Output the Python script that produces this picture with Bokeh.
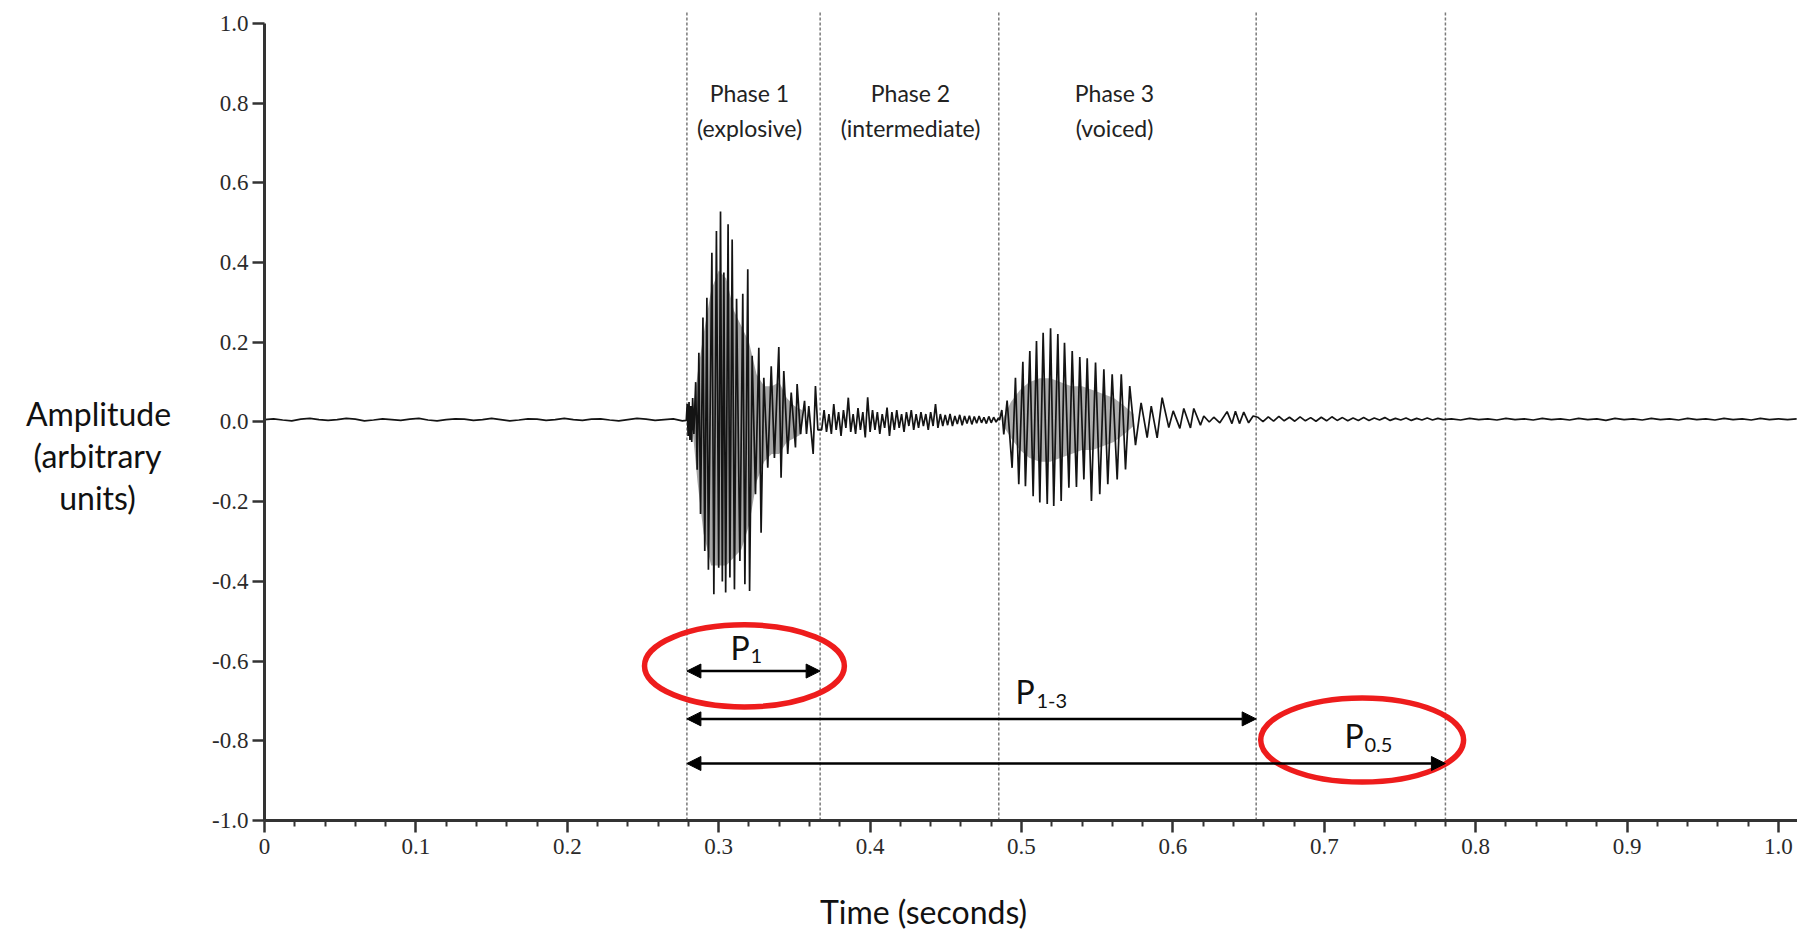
from bokeh.plotting import figure
from bokeh.models import Range1d, Arrow, NormalHead, Label, FixedTicker
from bokeh.embed import file_html
from bokeh.resources import INLINE

# ---------------- data ----------------
x_ticks = [0.0, 0.1, 0.2, 0.3, 0.4, 0.5, 0.6, 0.7, 0.8, 0.9, 1.0]
x_tick_labels = ["0", "0.1", "0.2", "0.3", "0.4", "0.5", "0.6", "0.7", "0.8", "0.9", "1.0"]
x_minor_ticks = [0.02, 0.04, 0.06, 0.08, 0.12, 0.14, 0.16, 0.18, 0.22, 0.24, 0.26, 0.28,
                 0.32, 0.34, 0.36, 0.38, 0.42, 0.44, 0.46, 0.48, 0.52, 0.54, 0.56, 0.58,
                 0.62, 0.64, 0.66, 0.68, 0.72, 0.74, 0.76, 0.78, 0.82, 0.84, 0.86, 0.88,
                 0.92, 0.94, 0.96, 0.98]
y_ticks = [-1.0, -0.8, -0.6, -0.4, -0.2, 0.0, 0.2, 0.4, 0.6, 0.8, 1.0]
y_tick_labels = ["-1.0", "-0.8", "-0.6", "-0.4", "-0.2", "0.0", "0.2", "0.4", "0.6", "0.8", "1.0"]

# phase boundaries (seconds) and their vertical extent
boundaries = [0.279, 0.367, 0.485, 0.655, 0.780]
boundary_bottom = -1.0
boundary_top = 1.03
phase_names = ["Phase 1", "Phase 2", "Phase 3"]
phase_kinds = ["(explosive)", "(intermediate)", "(voiced)"]

# duration arrows
arrow_start = [0.279, 0.279, 0.279]
arrow_end = [0.367, 0.655, 0.780]
arrow_level = [-0.625, -0.745, -0.857]
arrow_sub = ["1", "1-3", "0.5"]

# red highlight ellipses
ellipse_x = [0.317, 0.725]
ellipse_y = [-0.612, -0.798]
ellipse_w = [0.132, 0.134]
ellipse_h = [0.206, 0.211]

# waveform: baseline before the burst
pre_t = [0.000, 0.006, 0.012, 0.018, 0.024, 0.030, 0.036, 0.042, 0.048, 0.054, 0.060, 0.066,
         0.072, 0.078, 0.084, 0.090, 0.096, 0.102, 0.108, 0.114, 0.120, 0.126, 0.132, 0.138,
         0.144, 0.150, 0.156, 0.162, 0.168, 0.174, 0.180, 0.186, 0.192, 0.198, 0.204, 0.210,
         0.216, 0.222, 0.228, 0.234, 0.240, 0.246, 0.252, 0.258, 0.264, 0.270, 0.276]
pre_v = [0.006, 0.008, 0.005, 0.003, 0.007, 0.009, 0.006, 0.004, 0.006, 0.009, 0.007, 0.003,
         0.005, 0.008, 0.006, 0.004, 0.007, 0.009, 0.005, 0.003, 0.006, 0.008, 0.007, 0.004,
         0.006, 0.009, 0.006, 0.003, 0.005, 0.008, 0.007, 0.004, 0.006, 0.009, 0.006, 0.004,
         0.007, 0.008, 0.005, 0.003, 0.006, 0.009, 0.007, 0.004, 0.006, 0.008, 0.003]

# phase 1 (explosive burst)
ph1_t = [0.2786, 0.2792, 0.2798, 0.2804, 0.2810, 0.2816, 0.2822, 0.2828, 0.2836, 0.2848,
         0.2858, 0.2869, 0.2880, 0.2896, 0.2908, 0.2922, 0.2932, 0.2955, 0.2968, 0.2985,
         0.3000, 0.3012, 0.3024, 0.3034, 0.3046, 0.3062, 0.3074, 0.3089, 0.3104, 0.3118,
         0.3140, 0.3159, 0.3173, 0.3192, 0.3204, 0.3221, 0.3243, 0.3265, 0.3280, 0.3298,
         0.3324, 0.3347, 0.3368, 0.3397, 0.3412, 0.3430, 0.3456, 0.3479, 0.3507, 0.3518,
         0.3540, 0.3567, 0.3580, 0.3595, 0.3624, 0.3639, 0.3655]
ph1_v = [0.004, 0.045, -0.035, 0.050, -0.045, 0.040, -0.050, 0.060, -0.030, 0.100,
         -0.120, 0.174, -0.231, 0.262, -0.324, 0.312, -0.371, 0.425, -0.432, 0.479,
         -0.366, 0.528, -0.400, 0.375, -0.428, 0.496, -0.390, 0.458, -0.420, 0.309,
         -0.349, 0.322, -0.407, 0.383, -0.424, 0.166, -0.181, 0.186, -0.278, 0.111,
         -0.115, 0.140, -0.090, 0.188, -0.140, 0.128, -0.080, 0.074, -0.064, 0.095,
         -0.030, 0.053, -0.030, 0.040, -0.080, 0.090, -0.020]
# dense grey core of phase 1 (upper / lower edge)
ph1_core_t = [0.2830, 0.2860, 0.2900, 0.2950, 0.3000, 0.3050, 0.3100, 0.3150, 0.3200,
              0.3250, 0.3300, 0.3350, 0.3400, 0.3450, 0.3500, 0.3550]
ph1_core_hi = [0.03, 0.12, 0.22, 0.33, 0.38, 0.36, 0.28, 0.24, 0.20,
               0.12, 0.09, 0.09, 0.10, 0.06, 0.04, 0.03]
ph1_core_lo = [-0.03, -0.15, -0.28, -0.36, -0.36, -0.36, -0.34, -0.32, -0.26,
               -0.15, -0.10, -0.08, -0.08, -0.05, -0.04, -0.03]

# phase 2 (intermediate noise)
ph2_t = [0.3680, 0.3696, 0.3712, 0.3728, 0.3744, 0.3760, 0.3776, 0.3792, 0.3808, 0.3824,
         0.3840, 0.3856, 0.3872, 0.3888, 0.3904, 0.3920, 0.3936, 0.3952, 0.3968, 0.3984,
         0.4000, 0.4016, 0.4032, 0.4048, 0.4064, 0.4080, 0.4096, 0.4112, 0.4128, 0.4144,
         0.4160, 0.4176, 0.4192, 0.4208, 0.4224, 0.4240, 0.4256, 0.4272, 0.4288, 0.4304,
         0.4320, 0.4336, 0.4352, 0.4368, 0.4384, 0.4400, 0.4416, 0.4432, 0.4448, 0.4464,
         0.4480, 0.4496, 0.4512, 0.4528, 0.4544, 0.4560, 0.4576, 0.4592, 0.4608, 0.4624,
         0.4640, 0.4656, 0.4672, 0.4688, 0.4704, 0.4720, 0.4736, 0.4752, 0.4768, 0.4784,
         0.4800, 0.4816, 0.4832, 0.4848]
ph2_v = [-0.020, 0.030, -0.025, 0.020, -0.030, 0.045, -0.020, 0.025, -0.035, 0.030,
         -0.015, 0.061, -0.025, 0.020, -0.030, 0.035, -0.020, 0.025, -0.039, 0.062,
         -0.025, 0.030, -0.020, 0.025, -0.030, 0.020, -0.015, 0.036, -0.035, 0.025,
         -0.020, 0.030, -0.015, 0.020, -0.025, 0.025, -0.010, 0.030, -0.020, 0.020,
         -0.015, 0.025, -0.010, 0.020, -0.020, 0.025, -0.010, 0.045, -0.015, 0.020,
         -0.010, 0.018, -0.008, 0.020, -0.010, 0.015, -0.005, 0.018, -0.008, 0.015,
         -0.004, 0.016, -0.006, 0.014, -0.003, 0.015, -0.002, 0.012, -0.004, 0.014,
         -0.002, 0.012, 0.000, 0.010]

# phase 3 (voiced)
ph3_t = [0.4855, 0.4870, 0.4883, 0.4905, 0.4938, 0.4960, 0.4982, 0.5009, 0.5026, 0.5055,
         0.5077, 0.5099, 0.5121, 0.5143, 0.5170, 0.5192, 0.5213, 0.5240, 0.5262, 0.5284,
         0.5313, 0.5335, 0.5363, 0.5385, 0.5412, 0.5434, 0.5462, 0.5489, 0.5517, 0.5544,
         0.5570, 0.5599, 0.5632, 0.5659, 0.5687, 0.5715, 0.5753, 0.5790, 0.5830, 0.5857,
         0.5896, 0.5929, 0.5973, 0.6002, 0.6046, 0.6072, 0.6116, 0.6138, 0.6182, 0.6204,
         0.6240, 0.6270, 0.6310, 0.6358, 0.6390, 0.6413, 0.6440, 0.6468, 0.6500, 0.6530]
ph3_v = [0.005, 0.030, -0.031, 0.054, -0.115, 0.111, -0.156, 0.151, -0.161, 0.178,
         -0.186, 0.203, -0.202, 0.224, -0.206, 0.235, -0.211, 0.221, -0.198, 0.199,
         -0.165, 0.178, -0.163, 0.163, -0.144, 0.160, -0.198, 0.149, -0.181, 0.132,
         -0.156, 0.120, -0.144, 0.120, -0.119, 0.090, -0.058, 0.048, -0.039, 0.040,
         -0.040, 0.061, -0.014, 0.028, -0.016, 0.034, -0.015, 0.034, -0.008, 0.015,
         0.000, 0.012, -0.002, 0.026, -0.004, 0.027, -0.004, 0.025, -0.002, 0.015]
# dense grey core of phase 3
ph3_core_t = [0.4880, 0.4930, 0.4990, 0.5050, 0.5120, 0.5190, 0.5260, 0.5330, 0.5400,
              0.5470, 0.5540, 0.5610, 0.5680, 0.5740]
ph3_core_hi = [0.01, 0.05, 0.08, 0.10, 0.11, 0.11, 0.10, 0.09, 0.09,
               0.08, 0.07, 0.06, 0.04, 0.02]
ph3_core_lo = [-0.01, -0.04, -0.07, -0.09, -0.10, -0.10, -0.09, -0.08, -0.07,
               -0.07, -0.06, -0.05, -0.03, -0.01]

# baseline after the burst
post_t = [0.6560, 0.6595, 0.6630, 0.6665, 0.6700, 0.6735, 0.6770, 0.6805, 0.6840, 0.6875,
          0.6910, 0.6945, 0.6980, 0.7015, 0.7050, 0.7085, 0.7120, 0.7155, 0.7190, 0.7225,
          0.7260, 0.7295, 0.7330, 0.7365, 0.7400, 0.7435, 0.7470, 0.7505, 0.7540, 0.7575,
          0.7610, 0.7645, 0.7680, 0.7715, 0.7750, 0.7785, 0.784, 0.790, 0.796, 0.802,
          0.808, 0.814, 0.820, 0.826, 0.832, 0.838, 0.844, 0.850, 0.856, 0.862,
          0.868, 0.874, 0.880, 0.886, 0.892, 0.898, 0.904, 0.910, 0.916, 0.922,
          0.928, 0.934, 0.940, 0.946, 0.952, 0.958, 0.964, 0.970, 0.976, 0.982,
          0.988, 0.994, 1.000, 1.006, 1.012]
post_v = [0.012, 0.001, 0.013, 0.002, 0.014, 0.003, 0.012, 0.002, 0.013, 0.003,
          0.011, 0.002, 0.012, 0.003, 0.013, 0.004, 0.011, 0.003, 0.010, 0.004,
          0.011, 0.004, 0.010, 0.005, 0.011, 0.004, 0.009, 0.005, 0.010, 0.004,
          0.009, 0.005, 0.010, 0.005, 0.009, 0.006, 0.008, 0.005, 0.009, 0.006,
          0.008, 0.005, 0.009, 0.006, 0.008, 0.005, 0.009, 0.006, 0.008, 0.005,
          0.009, 0.006, 0.008, 0.004, 0.009, 0.006, 0.008, 0.005, 0.009, 0.006,
          0.008, 0.005, 0.009, 0.006, 0.008, 0.005, 0.009, 0.006, 0.008, 0.005,
          0.009, 0.006, 0.008, 0.006, 0.008]

# ---------------- figure ----------------
wave_t = pre_t + ph1_t + ph2_t + ph3_t + post_t
wave_v = pre_v + ph1_v + ph2_v + ph3_v + post_v

SANS = "Lato"
SERIF = "Liberation Serif"
INK = "#141414"

# the frame fills the whole canvas; axes are pinned at x=0 / y=-1
p = figure(width=1797, height=930, output_backend="svg", toolbar_location=None,
           x_range=Range1d(-0.174373, 1.012550), y_range=Range1d(-1.27604, 1.05772),
           min_border_left=0, min_border_right=0, min_border_top=0, min_border_bottom=0)
p.outline_line_color = None
p.xgrid.visible = False
p.ygrid.visible = False
p.background_fill_color = "white"
p.border_fill_color = "white"

for ax in (p.xaxis[0], p.yaxis[0]):
    ax.axis_line_width = 3
    ax.axis_line_color = "#333333"
    ax.major_tick_line_color = "#333333"
    ax.major_tick_line_width = 2.5
    ax.major_tick_in = 0
    ax.major_label_text_font = SERIF
    ax.major_label_text_font_size = "23px"
    ax.major_label_text_color = "#2a2a2a"

p.xaxis.fixed_location = -1.0
p.xaxis.bounds = (0.0, 1.01255)
p.xaxis.ticker = FixedTicker(ticks=x_ticks, minor_ticks=x_minor_ticks)
p.xaxis.major_label_overrides = {t: l for t, l in zip(x_ticks, x_tick_labels)}
p.xaxis.major_tick_out = 12
p.xaxis.minor_tick_out = 6
p.xaxis.minor_tick_in = 0
p.xaxis.minor_tick_line_width = 2
p.xaxis.minor_tick_line_color = "#333333"
p.xaxis.major_label_standoff = 7

p.yaxis.fixed_location = 0.0
p.yaxis.bounds = (-1.0, 1.0)
p.yaxis.ticker = FixedTicker(ticks=y_ticks, minor_ticks=[])
p.yaxis.major_label_overrides = {t: l for t, l in zip(y_ticks, y_tick_labels)}
p.yaxis.major_tick_out = 12
p.yaxis.minor_tick_line_color = None
p.yaxis.major_label_standoff = 4

# phase boundaries (dashed)
p.segment(x0=boundaries, y0=[boundary_bottom] * len(boundaries),
          x1=boundaries, y1=[boundary_top] * len(boundaries),
          line_color="#7a7a7a", line_dash="3 2", line_width=1.5)

# waveform: grey dense cores, then the trace
p.varea(x=ph1_core_t, y1=ph1_core_lo, y2=ph1_core_hi, fill_color="#9c9c9c", fill_alpha=0.9)
p.varea(x=ph3_core_t, y1=ph3_core_lo, y2=ph3_core_hi, fill_color="#a4a4a4", fill_alpha=0.9)
p.line(wave_t, wave_v, line_color=INK, line_width=1.7)

# duration arrows
for xs, xe, yl in zip(arrow_start, arrow_end, arrow_level):
    p.add_layout(Arrow(x_start=xs, y_start=yl, x_end=xe, y_end=yl, line_width=2.5,
                       line_color="black",
                       start=NormalHead(size=14, fill_color="black", line_color="black"),
                       end=NormalHead(size=14, fill_color="black", line_color="black")))

# highlight ellipses
p.ellipse(x=ellipse_x, y=ellipse_y, width=ellipse_w, height=ellipse_h,
          fill_alpha=0, line_color="#ee1c1c", line_width=5.5)

H = 930  # canvas height, for screen-unit placement of texts (origin bottom-left)


def lab(sx, sy, text, size, align="center", baseline="middle", font=SANS, color="#222222"):
    p.add_layout(Label(x=sx, y=H - sy, x_units="screen", y_units="screen", text=text,
                       text_font=font, text_font_size=size, text_align=align,
                       text_baseline=baseline, text_color=color))


# phase labels
phase_x = [749, 910, 1114]
for px, nm, kd in zip(phase_x, phase_names, phase_kinds):
    lab(px, 92, nm, "23px")
    lab(px, 127, kd, "23px")

# P labels with subscripts
p_pos = [(730, 647), (1015, 691), (1344, 735)]
sub_pos = [(750, 655), (1036, 700), (1364, 744)]
for (px, py), (sx, sy), s in zip(p_pos, sub_pos, arrow_sub):
    lab(px, py, "P", "32px", align="left", baseline="alphabetic", color="#111111")
    lab(sx, sy, s, "20px", align="left", baseline="alphabetic", color="#111111")

# axis titles
lab(98, 413, "Amplitude", "32px", color="#111111")
lab(97, 455, "(arbitrary", "32px", color="#111111")
lab(97, 497, "units)", "32px", color="#111111")
lab(923, 911, "Time (seconds)", "32px", color="#111111")

open("out.html", "w").write(file_html(p, INLINE))
